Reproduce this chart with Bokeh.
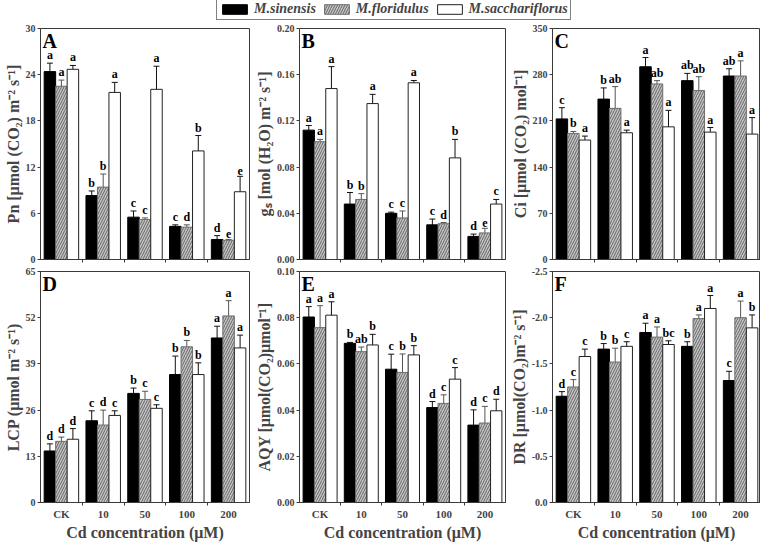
from bokeh.plotting import figure
from bokeh.models import (ColumnDataSource, Range1d, FixedTicker, PrintfTickFormatter,
                          Whisker, TeeHead, Legend, LegendItem)
from bokeh.layouts import column, row
from bokeh.embed import file_html
from bokeh.resources import INLINE
from bokeh.core.properties import value

FONT = "Liberation Serif"

categories = ["CK", "10", "50", "100", "200"]
species = ["M.sinensis", "M.floridulus", "M.sacchariflorus"]
x_title = "Cd concentration (μM)"

# A: Pn
pn_sin = [24.4, 8.3, 5.5, 4.3, 2.6]
pn_flo = [22.5, 9.4, 5.2, 4.2, 2.5]
pn_sac = [24.7, 21.7, 22.1, 14.1, 8.8]
pn_sin_err = [1.1, 0.6, 0.8, 0.2, 0.5]
pn_flo_err = [0.8, 1.7, 0.2, 0.3, 0.1]
pn_sac_err = [0.5, 1.3, 3.0, 2.0, 2.0]
pn_sin_let = ["a", "b", "c", "c", "d"]
pn_flo_let = ["a", "b", "c", "d", "e"]
pn_sac_let = ["a", "a", "a", "b", "e"]

# B: gs
gs_sin = [0.112, 0.048, 0.040, 0.030, 0.020]
gs_flo = [0.102, 0.052, 0.036, 0.031, 0.023]
gs_sac = [0.148, 0.135, 0.153, 0.088, 0.048]
gs_sin_err = [0.004, 0.010, 0.001, 0.005, 0.002]
gs_flo_err = [0.002, 0.005, 0.006, 0.001, 0.004]
gs_sac_err = [0.019, 0.008, 0.002, 0.016, 0.004]
gs_sin_let = ["a", "b", "c", "c", "d"]
gs_flo_let = ["a", "b", "c", "d", "e"]
gs_sac_let = ["a", "a", "a", "b", "c"]

# C: Ci
ci_sin = [213, 243, 292, 271, 278]
ci_flo = [191, 229, 266, 256, 278]
ci_sac = [181, 192, 201, 193, 190]
ci_sin_err = [17, 17, 14, 11, 11]
ci_flo_err = [3, 33, 5, 21, 23]
ci_sac_err = [6, 4, 25, 7, 25]
ci_sin_let = ["c", "b", "a", "ab", "ab"]
ci_flo_let = ["b", "ab", "ab", "ab", "a"]
ci_sac_let = ["a", "a", "a", "a", "a"]

# D: LCP
lcp_sin = [14.5, 23.0, 30.7, 36.0, 46.3]
lcp_flo = [17.2, 21.8, 29.0, 43.8, 52.5]
lcp_sac = [17.8, 24.5, 26.5, 36.0, 43.5]
lcp_sin_err = [2.0, 2.8, 1.5, 5.2, 3.3]
lcp_flo_err = [1.2, 4.2, 2.3, 1.8, 4.3]
lcp_sac_err = [3.0, 1.3, 1.0, 3.3, 3.6]
lcp_sin_let = ["d", "c", "b", "b", "a"]
lcp_flo_let = ["d", "d", "c", "b", "a"]
lcp_sac_let = ["d", "c", "c", "b", "a"]

# E: AQY
aqy_sin = [0.0803, 0.0689, 0.0577, 0.0411, 0.0335]
aqy_flo = [0.0757, 0.0653, 0.0563, 0.0429, 0.0344]
aqy_sac = [0.0811, 0.0682, 0.0639, 0.0534, 0.0397]
aqy_sin_err = [0.0045, 0.0004, 0.0065, 0.0026, 0.0066]
aqy_flo_err = [0.0095, 0.0020, 0.0080, 0.0037, 0.0072]
aqy_sac_err = [0.0058, 0.0046, 0.0040, 0.0050, 0.0050]
aqy_sin_let = ["a", "b", "c", "d", "d"]
aqy_flo_let = ["a", "ab", "b", "c", "c"]
aqy_sac_let = ["a", "b", "b", "c", "d"]

# F: DR
dr_sin = [-1.15, -1.66, -1.84, -1.69, -1.32]
dr_flo = [-1.25, -1.52, -1.79, -1.99, -2.00]
dr_sac = [-1.58, -1.69, -1.71, -2.10, -1.89]
dr_sin_err = [0.05, 0.06, 0.10, 0.05, 0.10]
dr_flo_err = [0.08, 0.15, 0.11, 0.04, 0.18]
dr_sac_err = [0.08, 0.05, 0.04, 0.14, 0.14]
dr_sin_let = ["d", "b", "a", "b", "c"]
dr_flo_let = ["c", "b", "a", "a", "a"]
dr_sac_let = ["c", "c", "bc", "a", "b"]

STYLES = [
    dict(fill_color="black", line_color="black"),
    dict(fill_color="#c4c4c4", line_color="#6e6e6e", hatch_pattern="/",
         hatch_color="#5a5a5a", hatch_scale=5, hatch_weight=0.9),
    dict(fill_color="white", line_color="#222222"),
]
ERR_COLORS = ["#111111", "#555555", "#111111"]
OFFSETS = [-0.275, 0.0, 0.275]
BAR_W = 0.275
AX = "#3a3a3a"


def panel(tag, ylabel, y0, y1, yticks, fmt, sers, errs, lets,
          width, left, right, height, top, bottom, x_end, show_x):
    p = figure(width=width, height=height, x_range=Range1d(-0.5, x_end),
               y_range=Range1d(y0, y1), toolbar_location=None, output_backend="svg",
               min_border_left=left, min_border_right=right,
               min_border_top=top, min_border_bottom=bottom)
    p.xgrid.visible = False
    p.ygrid.visible = False
    p.outline_line_color = AX
    p.outline_line_width = 1
    sign = 1 if y1 > y0 else -1
    xs = list(range(len(categories)))
    for k in range(3):
        vals = sers[k]
        er = errs[k]
        src = ColumnDataSource(dict(
            x=[i + OFFSETS[k] for i in xs],
            top=vals,
            upper=[v + sign * e for v, e in zip(vals, er)],
            lower=[v - sign * e for v, e in zip(vals, er)],
            lab=lets[k]))
        p.vbar(x="x", top="top", bottom=0, width=BAR_W, source=src, line_width=1, **STYLES[k])
        w = Whisker(source=src, base="x", upper="upper", lower="lower",
                    line_color=ERR_COLORS[k], line_width=1,
                    upper_head=TeeHead(size=6, line_color=ERR_COLORS[k], line_width=1),
                    lower_head=TeeHead(size=6, line_color=ERR_COLORS[k], line_width=1))
        p.add_layout(w)
        p.text(x="x", y="upper", text="lab", source=src, text_align="center",
               text_baseline="bottom", y_offset=-1, text_font=value(FONT),
               text_font_style="bold", text_font_size="12px", text_color="black")
    p.text(x=[-0.5], y=[y1], text=[tag], x_offset=2, y_offset=1, text_baseline="top",
           text_align="left", text_font=value(FONT), text_font_style="bold",
           text_font_size="20px", text_color="black")

    yax = p.yaxis[0]
    yax.ticker = FixedTicker(ticks=yticks, minor_ticks=[])
    yax.formatter = PrintfTickFormatter(format=fmt)
    yax.axis_label = ylabel
    yax.axis_label_text_font = FONT
    yax.axis_label_text_font_style = "bold"
    yax.axis_label_text_font_size = "16px"
    yax.axis_label_standoff = 1
    yax.major_label_text_font = FONT
    yax.major_label_text_font_style = "bold"
    yax.major_label_text_font_size = "10px"
    yax.major_label_standoff = 2
    yax.major_tick_out = 3
    yax.major_tick_in = 0
    yax.axis_line_color = AX
    yax.major_tick_line_color = AX

    xax = p.xaxis[0]
    bounds = [i + 0.5 for i in xs[:-1]]
    if show_x:
        xax.ticker = FixedTicker(ticks=xs, minor_ticks=bounds)
        xax.major_label_overrides = {i: c for i, c in enumerate(categories)}
        xax.axis_label = x_title
        xax.axis_label_text_font = FONT
        xax.axis_label_text_font_style = "bold"
        xax.axis_label_text_font_size = "16px"
        xax.axis_label_standoff = 1
        xax.major_label_text_font = FONT
        xax.major_label_text_font_style = "bold"
        xax.major_label_text_font_size = "11px"
        xax.major_label_standoff = 2
    else:
        xax.ticker = FixedTicker(ticks=[], minor_ticks=bounds)
        xax.major_label_standoff = 0
        xax.axis_label_standoff = 0
    xax.major_tick_line_color = None
    xax.major_tick_out = 0
    xax.minor_tick_out = 3
    xax.minor_tick_in = 0
    xax.minor_tick_line_color = AX
    xax.axis_line_color = AX
    return p


C_END = -0.5 + 208 / 41.8

LEG_H, TOP_H, BOT_H = 20, 245, 278
pA = panel("A", "Pn [μmol (CO₂) m⁻² s⁻¹]", 0, 30, [0, 6, 12, 18, 24, 30], "%d",
           [pn_sin, pn_flo, pn_sac], [pn_sin_err, pn_flo_err, pn_sac_err],
           [pn_sin_let, pn_flo_let, pn_sac_let], 252, 40, 3, TOP_H, 8, 6, 4.5, False)
pB = panel("B", "gₛ [mol (H₂O) m⁻² s⁻¹]", 0, 0.2, [0, 0.04, 0.08, 0.12, 0.16, 0.20], "%.2f",
           [gs_sin, gs_flo, gs_sac], [gs_sin_err, gs_flo_err, gs_sac_err],
           [gs_sin_let, gs_flo_let, gs_sac_let], 255, 44, 2, TOP_H, 8, 6, 4.5, False)
pC = panel("C", "Ci [μmol (CO₂) mol⁻¹]", 0, 350, [0, 70, 140, 210, 280, 350], "%d",
           [ci_sin, ci_flo, ci_sac], [ci_sin_err, ci_flo_err, ci_sac_err],
           [ci_sin_let, ci_flo_let, ci_sac_let], 253, 45, 0, TOP_H, 8, 6, C_END, False)
pD = panel("D", "LCP (μmol m⁻² s⁻¹)", 0, 65, [0, 13, 26, 39, 52, 65], "%d",
           [lcp_sin, lcp_flo, lcp_sac], [lcp_sin_err, lcp_flo_err, lcp_sac_err],
           [lcp_sin_let, lcp_flo_let, lcp_sac_let], 252, 40, 3, BOT_H, 6, 41, 4.5, True)
pE = panel("E", "AQY [μmol(CO₂)μmol⁻¹]", 0, 0.1, [0, 0.02, 0.04, 0.06, 0.08, 0.10], "%.2f",
           [aqy_sin, aqy_flo, aqy_sac], [aqy_sin_err, aqy_flo_err, aqy_sac_err],
           [aqy_sin_let, aqy_flo_let, aqy_sac_let], 255, 44, 2, BOT_H, 6, 41, 4.5, True)
pF = panel("F", "DR [μmol(CO₂)m⁻² s⁻¹]", 0, -2.5, [0, -0.5, -1.0, -1.5, -2.0, -2.5], "%.1f",
           [dr_sin, dr_flo, dr_sac], [dr_sin_err, dr_flo_err, dr_sac_err],
           [dr_sin_let, dr_flo_let, dr_sac_let], 253, 45, 0, BOT_H, 6, 41, C_END, True)

# Legend strip: swatch renderers are tiny and hidden beneath the legend box
leg = figure(width=760, height=LEG_H, x_range=Range1d(0, 1), y_range=Range1d(0, 1),
             toolbar_location=None, output_backend="svg", min_border=0)
leg.axis.visible = False
leg.grid.visible = False
leg.outline_line_color = None
rs = [leg.vbar(x=[0.5], top=[0.6], bottom=[0.4], width=0.002, line_width=1, **STYLES[k])
      for k in range(3)]
legend = Legend(items=[LegendItem(label=species[k], renderers=[rs[k]]) for k in range(3)],
                orientation="horizontal", location=(216, 0), padding=2, spacing=5, margin=0,
                glyph_width=31, glyph_height=12, label_standoff=4, label_height=12,
                label_text_font=FONT, label_text_font_style="bold italic",
                label_text_font_size="14px", border_line_color="black", border_line_width=1,
                background_fill_color="white", background_fill_alpha=1)
leg.add_layout(legend)

layout = column(leg, row(pA, pB, pC), row(pD, pE, pF))
open("out.html", "w").write(file_html(layout, INLINE))
